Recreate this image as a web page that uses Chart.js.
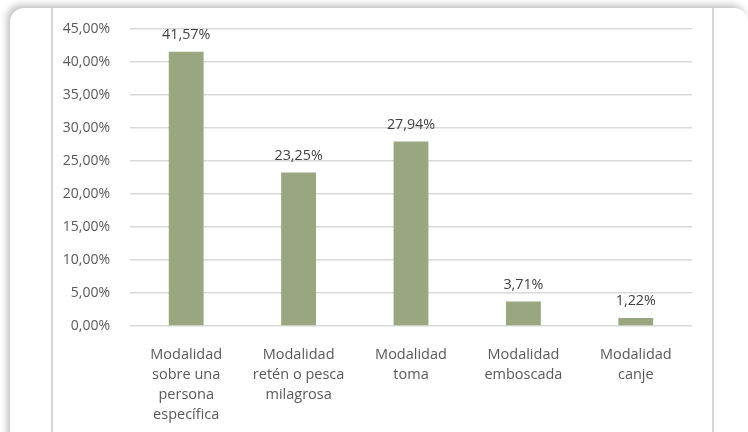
<!DOCTYPE html>
<html>
<head>
<meta charset="utf-8">
<script src="https://cdn.jsdelivr.net/npm/chart.js@4/dist/chart.umd.min.js"></script>
<style>
  html, body { margin: 0; padding: 0; background: #ffffff; }
  #wrap { position: relative; width: 748px; height: 432px; overflow: hidden; }
  .frame {
    position: absolute; left: 10px; top: 8px; width: 738px; height: 460px;
    background: #ffffff; border-radius: 14px;
    box-shadow: -3px -3px 7px rgba(0,0,0,0.25);
  }
  .rule { position: absolute; top: 8px; width: 2px; height: 424px; background: #d6d6d6; }
  canvas { position: absolute; left: 0; top: 0; }
</style>
</head>
<body>
<div id="wrap">
  <div class="frame"></div>
  <div class="rule" style="left:51px"></div>
  <div class="rule" style="left:712px"></div>
  <canvas id="c" width="748" height="432"></canvas>
</div>
<script>
// Categories (wrapped over several lines) and percentage values
const categories = [
  ["Modalidad", "sobre una", "persona", "específica"],
  ["Modalidad", "retén o pesca", "milagrosa"],
  ["Modalidad", "toma"],
  ["Modalidad", "emboscada"],
  ["Modalidad", "canje"]
];
const percentages = [41.57, 23.25, 27.94, 3.71, 1.22];
const yTicks = [0, 5, 10, 15, 20, 25, 30, 35, 40, 45];

const fmt = v => v.toFixed(2).replace('.', ',') + '%';
const FONT = "'Open Sans', sans-serif";

// Draws the value above each bar
const valueLabels = {
  id: 'valueLabels',
  afterDatasetsDraw(chart) {
    const ctx = chart.ctx;
    const meta = chart.getDatasetMeta(0);
    ctx.save();
    ctx.font = "14.3px " + FONT;
    ctx.fillStyle = '#404040';
    ctx.textAlign = 'center';
    ctx.textBaseline = 'middle';
    meta.data.forEach((bar, i) => {
      ctx.fillText(fmt(percentages[i]), bar.x, bar.y - 17);
    });
    ctx.restore();
  }
};

new Chart(document.getElementById('c'), {
  type: 'bar',
  data: {
    labels: categories,
    datasets: [{
      data: percentages,
      backgroundColor: '#99a67f',
      barPercentage: 0.62,
      categoryPercentage: 0.5
    }]
  },
  options: {
    responsive: false,
    animation: false,
    layout: { padding: { left: 0, right: 56, top: 29, bottom: 0 } },
    plugins: { legend: { display: false }, tooltip: { enabled: false } },
    scales: {
      x: {
        grid: { display: false },
        border: { display: false },
        ticks: {
          color: '#595959', font: { family: FONT, size: 14.5, lineHeight: '20px' },
          maxRotation: 0, autoSkip: false, padding: 11
        },
        afterFit(s) { s.height = 106; }
      },
      y: {
        min: 0, max: 45,
        afterBuildTicks(s) { s.ticks = yTicks.map(v => ({ value: v })); },
        grid: { color: '#d9d9d9', lineWidth: 1.5, drawTicks: false },
        border: { display: false },
        ticks: {
          color: '#595959', font: { family: FONT, size: 14 },
          padding: 20, callback: v => fmt(v)
        },
        afterFit(s) { s.width = 130; }
      }
    }
  },
  plugins: [valueLabels]
});
</script>
</body>
</html>
